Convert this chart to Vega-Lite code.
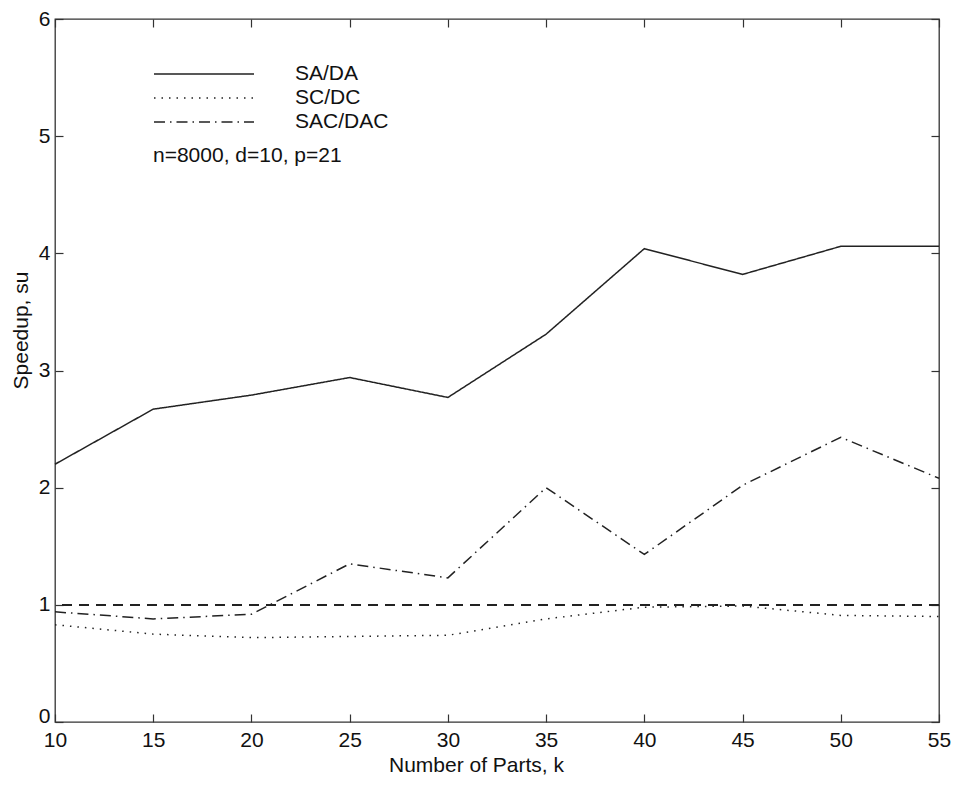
{
  "$schema": "https://vega.github.io/schema/vega-lite/v6.json",
  "width": 884,
  "height": 703,
  "autosize": "none",
  "padding": {"left": 55, "top": 19, "right": 16, "bottom": 63},
  "background": "white",
  "config": {
    "font": "Liberation Sans",
    "view": {"stroke": "#333", "strokeWidth": 1.3},
    "axis": {
      "domain": false,
      "grid": false,
      "tickColor": "#333",
      "tickWidth": 1.2,
      "tickSize": -8,
      "labelFont": "Liberation Sans",
      "labelFontSize": 21,
      "labelColor": "#111",
      "titleFont": "Liberation Sans",
      "titleFontSize": 21,
      "titleFontWeight": "normal",
      "titleColor": "#111"
    }
  },
  "data": {
    "values": [
      {"k": 10, "v": 2.20, "s": "SA/DA"},
      {"k": 15, "v": 2.67, "s": "SA/DA"},
      {"k": 20, "v": 2.79, "s": "SA/DA"},
      {"k": 25, "v": 2.94, "s": "SA/DA"},
      {"k": 30, "v": 2.77, "s": "SA/DA"},
      {"k": 35, "v": 3.31, "s": "SA/DA"},
      {"k": 40, "v": 4.04, "s": "SA/DA"},
      {"k": 45, "v": 3.82, "s": "SA/DA"},
      {"k": 50, "v": 4.06, "s": "SA/DA"},
      {"k": 55, "v": 4.06, "s": "SA/DA"},
      {"k": 10, "v": 0.83, "s": "SC/DC"},
      {"k": 15, "v": 0.75, "s": "SC/DC"},
      {"k": 20, "v": 0.72, "s": "SC/DC"},
      {"k": 25, "v": 0.73, "s": "SC/DC"},
      {"k": 30, "v": 0.74, "s": "SC/DC"},
      {"k": 35, "v": 0.88, "s": "SC/DC"},
      {"k": 40, "v": 0.98, "s": "SC/DC"},
      {"k": 45, "v": 0.99, "s": "SC/DC"},
      {"k": 50, "v": 0.91, "s": "SC/DC"},
      {"k": 55, "v": 0.90, "s": "SC/DC"},
      {"k": 10, "v": 0.94, "s": "SAC/DAC"},
      {"k": 15, "v": 0.88, "s": "SAC/DAC"},
      {"k": 20, "v": 0.92, "s": "SAC/DAC"},
      {"k": 25, "v": 1.35, "s": "SAC/DAC"},
      {"k": 30, "v": 1.23, "s": "SAC/DAC"},
      {"k": 35, "v": 2.00, "s": "SAC/DAC"},
      {"k": 40, "v": 1.43, "s": "SAC/DAC"},
      {"k": 45, "v": 2.02, "s": "SAC/DAC"},
      {"k": 50, "v": 2.43, "s": "SAC/DAC"},
      {"k": 55, "v": 2.08, "s": "SAC/DAC"}
    ]
  },
  "layer": [
    {
      "mark": {"type": "line", "color": "#222", "strokeWidth": 1.5},
      "encoding": {
        "x": {
          "field": "k", "type": "quantitative",
          "scale": {"domain": [10, 55], "nice": false, "zero": false},
          "axis": {"orient": "bottom", "title": "Number of Parts, k", "values": [10,15,20,25,30,35,40,45,50,55], "labelPadding": 15, "titlePadding": 4, "titleX": 421, "labelFlush": false, "labelOverlap": false}
        },
        "y": {
          "field": "v", "type": "quantitative",
          "scale": {"domain": [0, 6], "nice": false, "zero": true},
          "axis": {
            "orient": "left", "title": "Speedup, su", "values": [0,1,2,3,4,5,6],
            "labelPadding": 13, "titlePadding": 7, "titleY": 311, "labelFlush": false,
            "labelOffset": {"condition": {"test": "datum.value === 0", "value": -6}, "value": 0}
          }
        },
        "strokeDash": {
          "field": "s", "type": "nominal",
          "scale": {"domain": ["SA/DA", "SC/DC", "SAC/DAC"], "range": [[1, 0], [1.5, 6], [11, 5, 1.5, 5]]},
          "legend": {
            "orient": "none",
            "legendX": 98,
            "legendY": 45,
            "title": "n=8000, d=10, p=21",
            "titleOrient": "bottom",
            "titleAnchor": "start",
            "titleAlign": "left",
            "titleFontSize": 21,
            "titleFontWeight": "normal",
            "titleColor": "#111",
            "titlePadding": 13,
            "titleLimit": 500,
            "titleFont": "Liberation Sans",
            "symbolType": "stroke",
            "symbolSize": 10000,
            "symbolStrokeColor": "#222",
            "symbolStrokeWidth": 1.5,
            "clipHeight": 20,
            "rowPadding": 3,
            "labelOffset": 40,
            "labelFontSize": 21,
            "labelFont": "Liberation Sans",
            "labelColor": "#111",
            "labelLimit": 300,
            "padding": 0
          }
        },
        "order": {"field": "k"}
      }
    },
    {
      "mark": {"type": "rule", "color": "#222", "strokeWidth": 1.5, "strokeDash": [10, 7]},
      "encoding": {"y": {"datum": 1, "type": "quantitative", "axis": null}}
    },
    {
      "mark": {"type": "point", "opacity": 0},
      "encoding": {
        "x": {"field": "k", "type": "quantitative", "axis": {"orient": "top", "labels": false, "title": null, "values": [10,15,20,25,30,35,40,45,50,55]}},
        "y": {"field": "v", "type": "quantitative", "axis": {"orient": "right", "labels": false, "title": null, "values": [0,1,2,3,4,5,6]}}
      }
    }
  ],
  "resolve": {"axis": {"x": "independent", "y": "independent"}}
}
